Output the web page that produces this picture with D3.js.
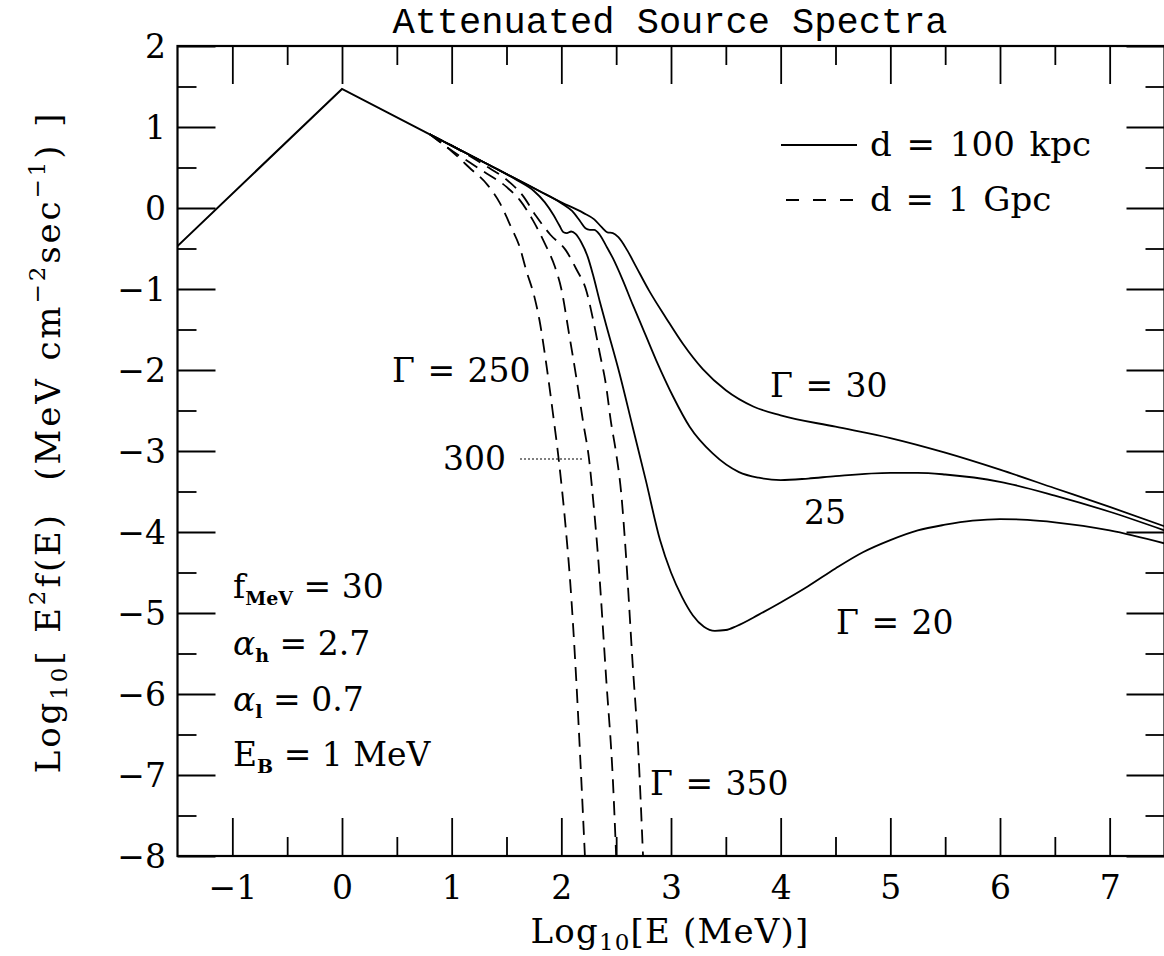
<!DOCTYPE html>
<html><head><meta charset="utf-8">
<script src="https://cdn.jsdelivr.net/npm/d3@7"></script>
<style>
html,body{margin:0;padding:0;background:#fff;}
svg text{font-family:"DejaVu Serif",serif;fill:#000;}
</style></head>
<body>
<svg id="c" width="1164" height="956"></svg>
<script>
// ---- data ----
const xTicks = [-1, 0, 1, 2, 3, 4, 5, 6, 7];
const yTicks = [2, 1, 0, -1, -2, -3, -4, -5, -6, -7, -8];
const intrinsic = [[-1.5, -0.47], [0, 1.47], [0.8, 0.91]];
const solid20 = [[1.0,0.77],[1.2,0.63],[1.4,0.49],[1.6,0.34],[1.75,0.21],[1.85,0.07],[1.93,-0.09],[1.98,-0.21],[2.02,-0.30],[2.05,-0.31],[2.09,-0.29],[2.13,-0.32],[2.18,-0.42],[2.24,-0.60],[2.29,-0.83],[2.35,-1.15],[2.41,-1.45],[2.53,-2.04],[2.65,-2.70],[2.77,-3.36],[2.9,-4.1],[3.0,-4.5],[3.1,-4.8],[3.2,-5.03],[3.3,-5.17],[3.4,-5.22],[3.5,-5.21],[3.6,-5.16],[3.8,-5.02],[4.0,-4.87],[4.25,-4.67],[4.5,-4.45],[4.75,-4.25],[5.0,-4.1],[5.25,-3.98],[5.5,-3.91],[5.75,-3.86],[6.0,-3.84],[6.25,-3.85],[6.5,-3.88],[7.0,-3.98],[7.5,-4.14]];
const solid25 = [[1.0,0.77],[1.4,0.49],[1.8,0.21],[2.0,0.06],[2.1,-0.04],[2.17,-0.16],[2.22,-0.25],[2.26,-0.27],[2.3,-0.27],[2.35,-0.33],[2.41,-0.47],[2.47,-0.62],[2.56,-0.89],[2.65,-1.19],[2.71,-1.38],[2.865,-1.88],[3.02,-2.33],[3.17,-2.70],[3.38,-3.03],[3.62,-3.26],[3.8,-3.33],[4.0,-3.36],[4.25,-3.34],[4.5,-3.31],[5.0,-3.27],[5.25,-3.27],[5.5,-3.29],[6.0,-3.38],[6.5,-3.55],[7.0,-3.75],[7.5,-3.98]];
const solid30 = [[1.0,0.77],[1.5,0.42],[2.0,0.07],[2.2,-0.06],[2.3,-0.14],[2.37,-0.24],[2.42,-0.30],[2.47,-0.31],[2.52,-0.36],[2.6,-0.52],[2.68,-0.72],[2.8,-1.02],[2.956,-1.36],[3.11,-1.68],[3.29,-1.99],[3.5,-2.25],[3.75,-2.45],[4.0,-2.56],[4.5,-2.70],[5.0,-2.84],[5.5,-3.02],[6.0,-3.23],[6.5,-3.46],[7.0,-3.69],[7.5,-3.93]];
const dashed250 = [[1.0,0.70],[1.16,0.50],[1.33,0.28],[1.44,0.06],[1.54,-0.23],[1.62,-0.48],[1.68,-0.77],[1.755,-1.10],[1.80,-1.38],[1.86,-1.9],[1.92,-2.5],[1.98,-3.15],[2.04,-3.95],[2.08,-4.6],[2.135,-5.8],[2.18,-7.0],[2.215,-8.0]];
const dashed300 = [[0.98,0.73],[1.28,0.46],[1.50,0.26],[1.62,0.10],[1.74,-0.15],[1.85,-0.44],[1.94,-0.72],[2.0,-1.0],[2.07,-1.55],[2.135,-2.08],[2.196,-2.62],[2.257,-3.15],[2.29,-3.6],[2.33,-4.22],[2.41,-5.83],[2.47,-7.06],[2.50,-8.0]];
const dashed350 = [[1.0,0.77],[1.31,0.52],[1.50,0.35],[1.65,0.15],[1.77,-0.10],[1.9,-0.33],[2.04,-0.52],[2.135,-0.75],[2.23,-1.03],[2.29,-1.38],[2.35,-1.79],[2.41,-2.21],[2.45,-2.62],[2.50,-3.03],[2.546,-3.52],[2.59,-4.3],[2.65,-5.62],[2.70,-6.65],[2.745,-8.0]];
const seriesNames = ["Γ = 20", "25", "Γ = 30", "Γ = 250", "300", "Γ = 350"];

// ---- chart ----
const svg = d3.select("#c");
const x = d3.scaleLinear().domain([-1.5, 7.5]).range([177.5, 1164.5]);
const y = d3.scaleLinear().domain([-8, 2]).range([856, 46]);
const majorX = xTicks, minorX = d3.range(-1.5, 7.6, 1).filter(v => v > -1.5 && v < 7.5);
const majorY = yTicks, minorY = d3.range(-7.5, 2, 1);

svg.append("defs").append("clipPath").attr("id","clip")
  .append("rect").attr("x",x(-1.5)).attr("y",y(2)).attr("width",x(7.5)-x(-1.5)).attr("height",y(-8)-y(2));

function styleAxis(g){ g.select(".domain").remove(); g.selectAll("line").attr("stroke","#000").attr("stroke-width",1.8); }
const labFont = 33;
// bottom
svg.append("g").attr("transform",`translate(0,${y(-8)})`)
  .call(d3.axisBottom(x).tickValues(majorX).tickSize(-38).tickPadding(20).tickFormat(d => d < 0 ? "−"+Math.abs(d) : d))
  .call(styleAxis)
  .call(g => g.selectAll("text").attr("font-size",labFont).attr("font-family","DejaVu Serif").attr("fill","#000").attr("dy","0.71em"));
svg.append("g").attr("transform",`translate(0,${y(-8)})`)
  .call(d3.axisBottom(x).tickValues(minorX).tickSize(-19).tickFormat("")).call(styleAxis);
// top
svg.append("g").attr("transform",`translate(0,${y(2)})`)
  .call(d3.axisTop(x).tickValues(majorX).tickSize(-38).tickFormat("")).call(styleAxis);
svg.append("g").attr("transform",`translate(0,${y(2)})`)
  .call(d3.axisTop(x).tickValues(minorX).tickSize(-19).tickFormat("")).call(styleAxis);
// left
svg.append("g").attr("transform",`translate(${x(-1.5)},0)`)
  .call(d3.axisLeft(y).tickValues(majorY).tickSize(-38).tickFormat(""))
  .call(styleAxis);
svg.append("g").attr("transform",`translate(${x(-1.5)},0)`)
  .call(d3.axisLeft(y).tickValues(minorY).tickSize(-19).tickFormat("")).call(styleAxis);
// y tick labels
svg.append("g").selectAll("text").data(majorY).join("text")
  .attr("x", 166).attr("y", d => y(d)).attr("dy","0.36em")
  .attr("text-anchor","end").attr("font-size",labFont)
  .text(d => d < 0 ? "−"+Math.abs(d) : d);
// right
svg.append("g").attr("transform",`translate(${x(7.5)},0)`)
  .call(d3.axisRight(y).tickValues(majorY).tickSize(-38).tickFormat("")).call(styleAxis);
svg.append("g").attr("transform",`translate(${x(7.5)},0)`)
  .call(d3.axisRight(y).tickValues(minorY).tickSize(-19).tickFormat("")).call(styleAxis);
// frame
svg.append("rect").attr("x",x(-1.5)).attr("y",y(2)).attr("width",x(7.5)-x(-1.5)).attr("height",y(-8)-y(2))
  .attr("fill","none").attr("stroke","#000").attr("stroke-width",2.2);

// curves
const straight = d3.line().x(d => x(d[0])).y(d => y(d[1]));
const smooth = d3.line().x(d => x(d[0])).y(d => y(d[1])).curve(d3.curveMonotoneX);
const plot = svg.append("g").attr("clip-path","url(#clip)");
plot.append("path").attr("d", straight(intrinsic)).attr("fill","none").attr("stroke","#000").attr("stroke-width",2);
[solid20, solid25, solid30].forEach(s => {
  plot.append("path").attr("d", smooth([intrinsic[2]].concat(s))).attr("fill","none").attr("stroke","#000").attr("stroke-width",1.8);
});
[dashed250, dashed300, dashed350].forEach(s => {
  plot.append("path").attr("d", smooth([intrinsic[2]].concat(s))).attr("fill","none").attr("stroke","#000").attr("stroke-width",1.8).attr("stroke-dasharray","14,8");
});

// title
svg.append("text").attr("x",670).attr("y",33).attr("text-anchor","middle")
  .style("font-family","Liberation Mono").attr("font-size",37).text("Attenuated Source Spectra");

// x label
const xl = svg.append("text").attr("x",670).attr("y",943).attr("text-anchor","middle").attr("font-size",34).attr("letter-spacing",1.2);
xl.append("tspan").text("Log");
xl.append("tspan").attr("font-size",23).attr("dy",7).text("10");
xl.append("tspan").attr("dy",-7).text("[E (MeV)]");

// y label
const yl = svg.append("text").attr("transform","translate(60,442) rotate(-90)").attr("text-anchor","middle")
  .attr("font-size",34).attr("letter-spacing",2.9).attr("word-spacing",2);
yl.append("tspan").text("Log");
yl.append("tspan").attr("font-size",23).attr("dy",7).text("10");
yl.append("tspan").attr("dy",-7).text("[ E");
yl.append("tspan").attr("font-size",23).attr("dy",-15).text("2");
yl.append("tspan").attr("dy",15).text("f(E)\u00a0\u00a0(MeV cm");
yl.append("tspan").attr("font-size",23).attr("dy",-15).text("−2");
yl.append("tspan").attr("dy",15).text("sec");
yl.append("tspan").attr("font-size",23).attr("dy",-15).text("−1");
yl.append("tspan").attr("dy",15).text(") ]");

// legend
svg.append("line").attr("x1",781).attr("x2",857).attr("y1",145).attr("y2",145).attr("stroke","#000").attr("stroke-width",1.8);
svg.append("text").attr("x",870).attr("y",156).attr("font-size",34).attr("word-spacing",4).text("d = 100 kpc");
svg.append("line").attr("x1",786).attr("x2",853).attr("y1",200).attr("y2",200).attr("stroke","#000").attr("stroke-width",1.8).attr("stroke-dasharray","13,14");
svg.append("text").attr("x",870).attr("y",211).attr("font-size",34).attr("word-spacing",3).text("d = 1 Gpc");

// curve labels
const ann = [[seriesNames[3],392,382],[seriesNames[4],443,470],[seriesNames[2],770,397],[seriesNames[1],804,524],[seriesNames[0],836,634],[seriesNames[5],650,795]];
svg.append("g").selectAll("text").data(ann).join("text")
  .attr("x",d=>d[1]).attr("y",d=>d[2]).attr("font-size",33).attr("word-spacing",2).text(d=>d[0]);
svg.append("line").attr("x1",520).attr("x2",583).attr("y1",459).attr("y2",459).attr("stroke","#000").attr("stroke-width",1.2).attr("stroke-dasharray","2,2");

// parameter block
function param(yb, main, sub, rest, ital){
  const t = svg.append("text").attr("x",233).attr("y",yb).attr("font-size",33);
  t.append("tspan").attr("font-style", ital ? "italic" : "normal").text(main);
  t.append("tspan").attr("font-size",19).attr("font-weight","bold").attr("dy",7).text(sub);
  t.append("tspan").attr("dy",-7).text(rest);
}
param(598,"f","MeV"," = 30", false);
param(655,"α","h"," = 2.7", true);
param(711,"α","l"," = 0.7", true);
param(766,"E","B"," = 1 MeV", false);
</script>
</body></html>
